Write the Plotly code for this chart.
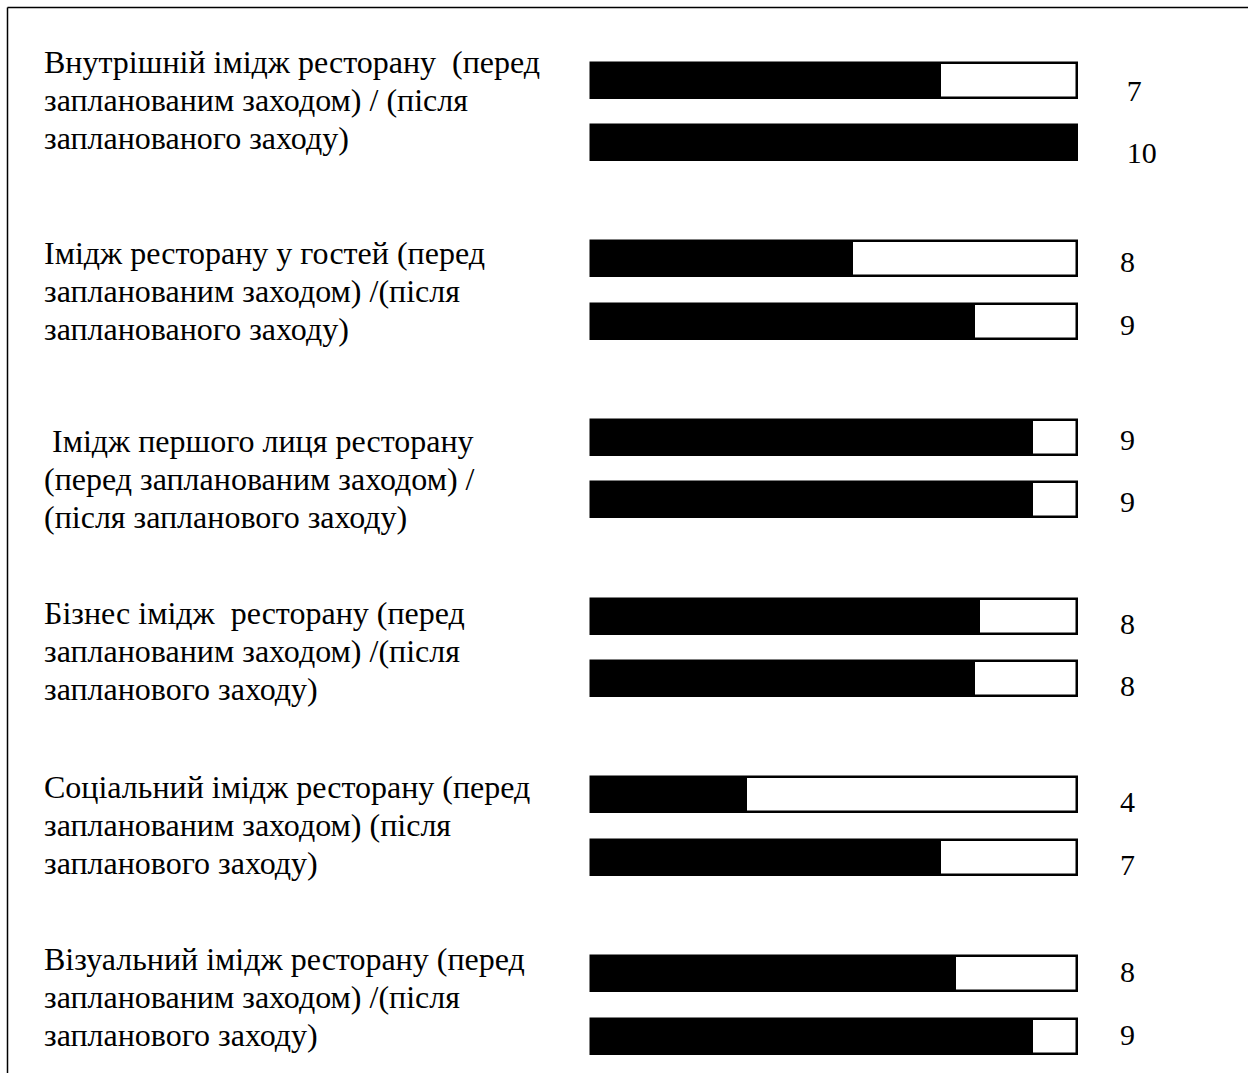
import plotly.graph_objects as go

# ---- data ----
categories = [
    ["Внутрішній імідж ресторану  (перед", "запланованим заходом) / (після", "запланованого заходу)"],
    ["Імідж ресторану у гостей (перед", "запланованим заходом) /(після", "запланованого заходу)"],
    [" Імідж першого лиця ресторану", "(перед запланованим заходом) /", "(після запланового заходу)"],
    ["Бізнес імідж  ресторану (перед", "запланованим заходом) /(після", "запланового заходу)"],
    ["Соціальний імідж ресторану (перед", "запланованим заходом) (після", "запланового заходу)"],
    ["Візуальний імідж ресторану (перед", "запланованим заходом) /(після", "запланового заходу)"],
]
score_before = [7, 8, 9, 8, 4, 8]
score_after = [10, 9, 9, 8, 7, 9]
# black share of each bar, percent of full bar length
fill_before = [72, 54, 91, 80, 32, 75]
fill_after = [100, 79, 91, 79, 72, 91]
full_scale = 100

# ---- layout helpers (positions only) ----
FONT = "Liberation Serif, Times New Roman, serif"
W, H = 1248, 1073
bar_left_px, bar_len_px = 591, 486
x0 = -bar_left_px / bar_len_px * full_scale
x1 = (W - bar_left_px) / bar_len_px * full_scale
base, gstep, rstep = 80, 178.7, 62.5
label_dy = [-18, -6, 4, -3, -8, -15]
value_dy = [13, 6, 5, 10, 10, 1]
line_step = 38
value_x = (1120 - bar_left_px) / bar_len_px * full_scale

n = len(categories)
y_before = [base + g * gstep for g in range(n)]
y_after = [base + g * gstep + rstep for g in range(n)]
ys, fills, scores, vys = [], [], [], []
for i in range(n):
    ys += [y_before[i], y_after[i]]
    fills += [fill_before[i], fill_after[i]]
    scores += [score_before[i], score_after[i]]
    vys += [y_before[i] + value_dy[i], y_after[i] + value_dy[i]]

fig = go.Figure()
fig.add_trace(go.Bar(
    x=[full_scale] * len(ys), y=ys, orientation="h", width=35,
    marker=dict(color="white", line=dict(color="black", width=2.5)),
    hoverinfo="skip", showlegend=False,
))
fig.add_trace(go.Bar(
    x=fills, y=ys, orientation="h", width=35,
    marker=dict(color="black", line=dict(width=0)),
    hoverinfo="skip", showlegend=False,
))
fig.add_trace(go.Scatter(
    x=[value_x + (1.4 if i < 2 else 0) for i in range(len(ys))], y=vys, mode="text",
    text=[str(s) for s in scores], textposition="middle right",
    textfont=dict(family=FONT, size=30, color="black"),
    hoverinfo="skip", showlegend=False, cliponaxis=False,
))

annotations = []
for i, lines in enumerate(categories):
    for k, line in enumerate(lines):
        annotations.append(dict(
            x=42 / W, xref="paper", y=y_before[i] + label_dy[i] + k * line_step, yref="y",
            text=line, showarrow=False, xanchor="left", yanchor="middle",
            align="left", font=dict(family=FONT, size=32, color="black"),
        ))

shapes = [
    dict(type="line", xref="paper", yref="paper", x0=7.5 / W, x1=1, y0=1 - 7.5 / H, y1=1 - 7.5 / H,
         line=dict(color="black", width=1.5)),
    dict(type="line", xref="paper", yref="paper", x0=7.5 / W, x1=7.5 / W, y0=0, y1=1 - 7.5 / H,
         line=dict(color="black", width=1.5)),
]

fig.update_layout(
    width=W, height=H, margin=dict(l=0, r=0, t=0, b=0),
    paper_bgcolor="white", plot_bgcolor="white",
    barmode="overlay", bargap=0,
    xaxis=dict(range=[x0, x1], visible=False, fixedrange=True),
    yaxis=dict(range=[H, 0], visible=False, fixedrange=True),
    annotations=annotations, shapes=shapes,
)

fig.write_html("out.html")
